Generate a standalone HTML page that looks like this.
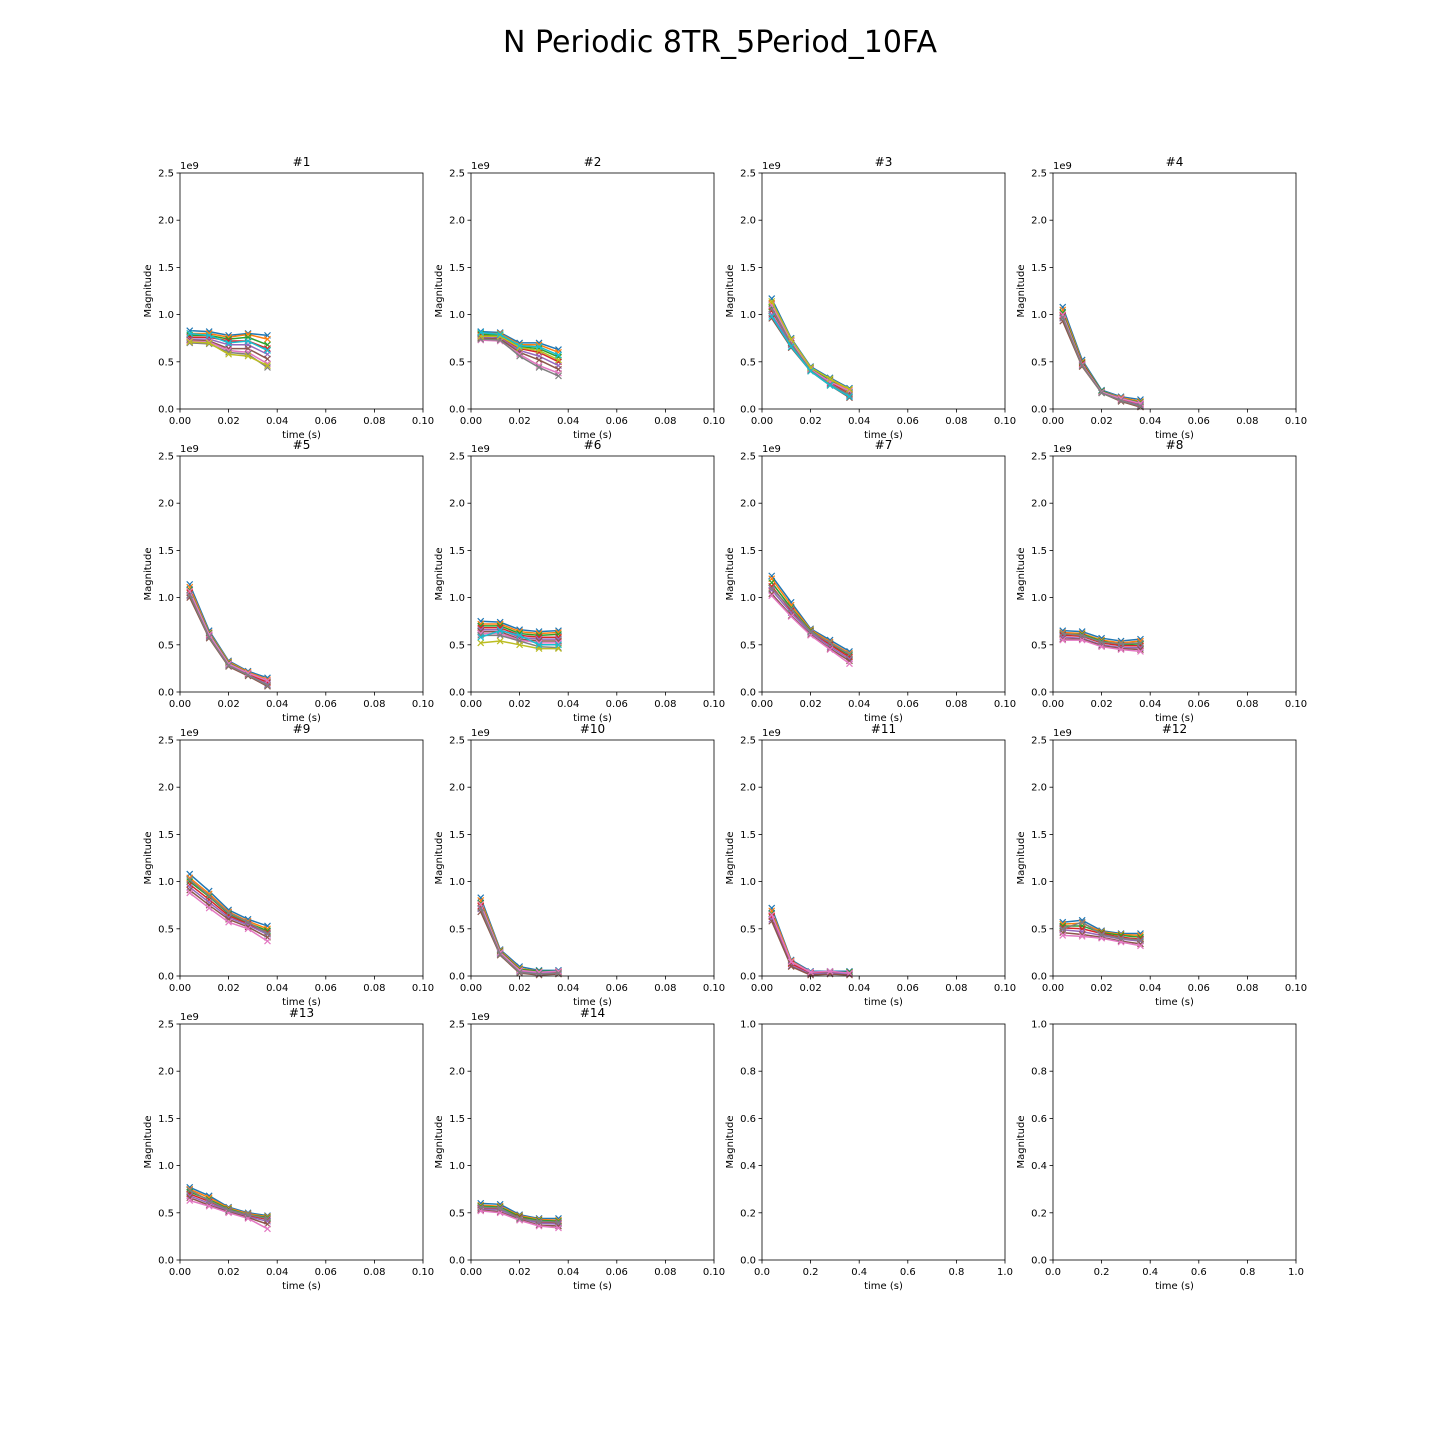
<!DOCTYPE html>
<html><head><meta charset="utf-8"><style>
body{margin:0;background:#fff;}
svg{display:block;font-family:"DejaVu Sans","Liberation Sans",sans-serif;}
</style></head><body>
<svg id="fig" width="1440" height="1440">
<text x="720" y="52" font-size="30" text-anchor="middle">N Periodic 8TR_5Period_10FA</text>
</svg>
<script>
const times = [0.004, 0.012, 0.020, 0.028, 0.036];
const xTicks = [0, 0.02, 0.04, 0.06, 0.08, 0.10];
const xTickLabels = ["0.00","0.02","0.04","0.06","0.08","0.10"];
const yTicks = [0, 0.5, 1.0, 1.5, 2.0, 2.5];
const yTickLabels = ["0.0","0.5","1.0","1.5","2.0","2.5"];
const emptyTicks = [0, 0.2, 0.4, 0.6, 0.8, 1.0];
const emptyTickLabels = ["0.0","0.2","0.4","0.6","0.8","1.0"];
const colors = ["#1f77b4","#ff7f0e","#2ca02c","#d62728","#9467bd","#8c564b","#e377c2","#7f7f7f","#bcbd22","#17becf"];
const panelSeries = [
 [[0.83,0.82,0.78,0.80,0.78],[0.80,0.80,0.76,0.79,0.74],[0.78,0.78,0.74,0.76,0.68],[0.76,0.76,0.72,0.72,0.64],[0.74,0.74,0.68,0.68,0.58],[0.73,0.72,0.64,0.64,0.53],[0.72,0.71,0.62,0.60,0.48],[0.70,0.69,0.60,0.58,0.44],[0.71,0.70,0.58,0.56,0.46],[0.80,0.78,0.70,0.72,0.62]],
 [[0.82,0.81,0.70,0.70,0.63],[0.80,0.80,0.68,0.68,0.60],[0.79,0.78,0.66,0.64,0.55],[0.78,0.76,0.64,0.60,0.50],[0.76,0.75,0.62,0.56,0.46],[0.75,0.74,0.60,0.52,0.42],[0.73,0.72,0.58,0.46,0.38],[0.74,0.73,0.56,0.44,0.35],[0.77,0.77,0.65,0.62,0.52],[0.81,0.79,0.67,0.66,0.57]],
 [[1.17,0.75,0.45,0.33,0.22],[1.12,0.73,0.44,0.31,0.20],[1.08,0.72,0.43,0.30,0.18],[1.04,0.70,0.42,0.28,0.16],[1.00,0.68,0.41,0.27,0.14],[0.96,0.65,0.40,0.25,0.12],[1.10,0.72,0.42,0.29,0.19],[1.06,0.69,0.41,0.26,0.15],[1.14,0.74,0.44,0.32,0.21],[0.98,0.66,0.40,0.25,0.13]],
 [[1.08,0.52,0.20,0.13,0.10],[1.05,0.50,0.19,0.12,0.08],[1.02,0.49,0.19,0.11,0.07],[0.99,0.48,0.18,0.10,0.05],[0.96,0.46,0.18,0.09,0.04],[0.93,0.45,0.17,0.08,0.02],[1.00,0.47,0.18,0.11,0.06],[0.97,0.46,0.17,0.09,0.03]],
 [[1.14,0.65,0.33,0.22,0.15],[1.11,0.63,0.32,0.21,0.13],[1.08,0.62,0.31,0.20,0.11],[1.05,0.60,0.30,0.19,0.10],[1.02,0.59,0.29,0.18,0.08],[1.00,0.57,0.27,0.17,0.06],[1.07,0.61,0.30,0.20,0.12],[1.03,0.58,0.28,0.18,0.07]],
 [[0.75,0.74,0.66,0.64,0.65],[0.72,0.72,0.64,0.62,0.63],[0.70,0.70,0.62,0.60,0.61],[0.68,0.68,0.60,0.58,0.58],[0.66,0.66,0.58,0.56,0.56],[0.64,0.64,0.56,0.54,0.54],[0.62,0.62,0.55,0.52,0.52],[0.60,0.60,0.54,0.48,0.47],[0.52,0.54,0.50,0.46,0.46],[0.58,0.65,0.60,0.50,0.50]],
 [[1.23,0.95,0.67,0.55,0.43],[1.20,0.92,0.66,0.53,0.41],[1.16,0.89,0.65,0.51,0.39],[1.12,0.86,0.64,0.50,0.37],[1.08,0.84,0.63,0.48,0.35],[1.04,0.81,0.61,0.46,0.33],[1.02,0.80,0.60,0.45,0.30],[1.10,0.88,0.64,0.52,0.40]],
 [[0.65,0.64,0.57,0.54,0.56],[0.63,0.62,0.55,0.52,0.54],[0.61,0.61,0.54,0.50,0.51],[0.60,0.59,0.52,0.49,0.49],[0.58,0.57,0.50,0.47,0.47],[0.56,0.56,0.49,0.46,0.45],[0.55,0.55,0.48,0.45,0.43],[0.62,0.60,0.53,0.51,0.52]],
 [[1.08,0.90,0.70,0.60,0.53],[1.04,0.87,0.68,0.58,0.50],[1.00,0.84,0.66,0.56,0.48],[0.97,0.81,0.64,0.55,0.46],[0.94,0.78,0.62,0.54,0.44],[0.91,0.75,0.60,0.52,0.41],[0.88,0.72,0.57,0.50,0.37],[1.02,0.85,0.67,0.57,0.45]],
 [[0.83,0.28,0.10,0.06,0.06],[0.80,0.27,0.08,0.05,0.05],[0.77,0.26,0.07,0.05,0.05],[0.74,0.25,0.06,0.04,0.04],[0.71,0.24,0.05,0.03,0.03],[0.68,0.22,0.03,0.01,0.02],[0.76,0.25,0.06,0.04,0.05],[0.72,0.23,0.04,0.02,0.03]],
 [[0.72,0.17,0.05,0.05,0.05],[0.69,0.16,0.04,0.04,0.04],[0.66,0.14,0.03,0.04,0.04],[0.63,0.13,0.03,0.03,0.03],[0.60,0.11,0.02,0.03,0.02],[0.58,0.10,0.01,0.02,0.01],[0.65,0.15,0.04,0.05,0.03]],
 [[0.57,0.59,0.48,0.45,0.45],[0.55,0.56,0.47,0.44,0.43],[0.53,0.53,0.46,0.43,0.41],[0.51,0.50,0.45,0.41,0.39],[0.49,0.47,0.43,0.39,0.37],[0.46,0.44,0.41,0.37,0.34],[0.43,0.42,0.40,0.36,0.32],[0.50,0.57,0.44,0.40,0.38]],
 [[0.77,0.68,0.56,0.50,0.47],[0.75,0.66,0.55,0.49,0.46],[0.72,0.64,0.54,0.48,0.45],[0.70,0.62,0.53,0.47,0.43],[0.68,0.60,0.52,0.46,0.41],[0.66,0.58,0.51,0.45,0.38],[0.63,0.57,0.50,0.44,0.33],[0.74,0.63,0.53,0.48,0.44]],
 [[0.60,0.59,0.48,0.44,0.44],[0.58,0.57,0.47,0.43,0.42],[0.57,0.56,0.46,0.42,0.41],[0.55,0.54,0.45,0.40,0.39],[0.54,0.53,0.44,0.39,0.38],[0.53,0.51,0.43,0.37,0.36],[0.52,0.50,0.42,0.36,0.34],[0.56,0.55,0.44,0.41,0.40]]
];
const NS = "http://www.w3.org/2000/svg";
const svg = document.getElementById("fig");
const colX = [180, 471, 762, 1053];
const rowY = [173, 456, 740, 1024];
const W = 243, H = 236;
function el(tag, attrs, parent) {
  const e = document.createElementNS(NS, tag);
  for (const k in attrs) e.setAttribute(k, attrs[k]);
  (parent || svg).appendChild(e);
  return e;
}
for (let p = 0; p < 16; p++) {
  const r = Math.floor(p / 4), c = p % 4;
  const L = colX[c], T = rowY[r];
  const empty = p >= 14;
  const xmax = empty ? 1 : 0.1, ymax = empty ? 1 : 2.5;
  const sx = v => L + v / xmax * W;
  const sy = v => T + H - v / ymax * H;
  const g = el("g", {});
  
  
  const xt = empty ? emptyTicks : xTicks, xl = empty ? emptyTickLabels : xTickLabels;
  const yt = empty ? emptyTicks : yTicks, yl = empty ? emptyTickLabels : yTickLabels;
  xt.forEach((v, i) => {
    el("line", {x1: sx(v), x2: sx(v), y1: T + H, y2: T + H + 3.5, stroke: "#000", "stroke-width": 0.8}, g);
    const t = el("text", {x: sx(v), y: T + H + 15, "font-size": 10, "text-anchor": "middle"}, g);
    t.textContent = xl[i];
    
    
  });
  yt.forEach((v, i) => {
    el("line", {x1: L - 3.5, x2: L, y1: sy(v), y2: sy(v), stroke: "#000", "stroke-width": 0.8}, g);
    const t = el("text", {x: L - 6, y: sy(v) + 3.5, "font-size": 10, "text-anchor": "end"}, g);
    t.textContent = yl[i];
    
    
  });
  const xlab = el("text", {x: L + W / 2, y: T + H + 29, "font-size": 10, "text-anchor": "middle"}, g);
  xlab.textContent = "time (s)";
  
  
  const ylab = el("text", {x: 0, y: 0, "font-size": 10, "text-anchor": "middle", transform: "translate(" + (L - 29) + "," + (T + H / 2) + ") rotate(-90)"}, g);
  ylab.textContent = "Magnitude";
  
  
  if (!empty) {
    const ex = el("text", {x: L, y: T - 4, "font-size": 10}, g);
    ex.textContent = "1e9";
    
    
    const tt = el("text", {x: L + W / 2, y: T - 7, "font-size": 12, "text-anchor": "middle"}, g);
    tt.textContent = "#" + (p + 1);
    
    
    panelSeries[p].forEach((s, si) => {
      const col = colors[si % colors.length];
      const pts = s.map((v, i) => sx(times[i]) + "," + sy(v)).join(" ");
      const pl = el("polyline", {points: pts, fill: "none", stroke: col, "stroke-width": 1.5}, g);
      
      
      s.forEach((v, i) => {
        const x = sx(times[i]), y = sy(v), d = 3;
        const m = el("path", {d: `M${x-d},${y-d}L${x+d},${y+d}M${x-d},${y+d}L${x+d},${y-d}`, stroke: col, "stroke-width": 1.2}, g);
        
        
      });
    });
  }
  const frame = el("rect", {x: L, y: T, width: W, height: H, fill: "none", stroke: "#000", "stroke-width": 0.8}, g);
  
  
}
</script>
</body></html>
